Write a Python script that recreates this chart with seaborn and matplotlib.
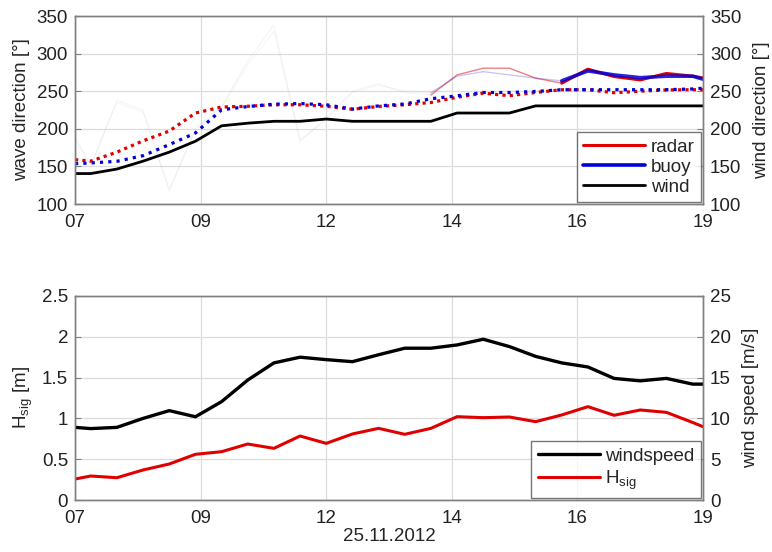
import numpy as np
import pandas as pd
import matplotlib
matplotlib.use("Agg")
import matplotlib.pyplot as plt
import seaborn as sns
from matplotlib.lines import Line2D

# ---------------- data ----------------
hours = [7.0, 7.3, 7.8, 8.3, 8.8, 9.3, 9.8, 10.3, 10.8, 11.3, 11.8, 12.3, 12.8,
         13.3, 13.8, 14.3, 14.8, 15.3, 15.8, 16.3, 16.8, 17.3, 17.8, 18.3, 18.8, 19.0]

wind_dir = [140.5, 140.5, 146.5, 157, 169, 183.5, 204, 207.5, 210, 210, 213, 210, 210,
            210, 210, 221, 221, 221, 230.5, 230.5, 230.5, 230.5, 230.5, 230.5, 230.5, 230.5]

radar_mean = [159, 157, 169, 184, 197, 221, 229, 230, 232, 232, 230, 226, 229.7,
              232, 235, 242, 247.4, 244, 248.3, 252, 252, 248, 250, 251.7, 252, 252]
buoy_mean = [153.7, 154.6, 156.8, 164.3, 179, 194.4, 225.3, 229.6, 232.8, 233.6, 232, 226.2, 230.5,
             233, 240, 243.9, 248.3, 248.3, 249.7, 252, 252, 252, 252, 252, 253, 254]

radar_peak = [190, 150, 238, 225, 117, 200, 230, 290, 338, 183, 215, 250, 260,
              248, 245, 271.7, 280.6, 280.6, 267.4, 260.7, 279.3, 269.5, 265, 273.6, 270, 267.6]
buoy_peak = [185, 152, 235, 222, 120, 198, 228, 285, 330, 185, 212, 248, 258,
             250, 248, 270, 276, 271.7, 267.4, 263.8, 277, 271.7, 268, 270, 270, 266]

windspeed = [8.9, 8.75, 8.9, 10.0, 10.95, 10.2, 12.05, 14.7, 16.8, 17.5, 17.2, 16.95, 17.8,
             18.6, 18.6, 19.0, 19.7, 18.8, 17.6, 16.8, 16.3, 14.9, 14.6, 14.9, 14.2, 14.2]
hsig = [0.257, 0.294, 0.273, 0.368, 0.441, 0.56, 0.592, 0.686, 0.633, 0.784, 0.694, 0.809, 0.878,
        0.805, 0.878, 1.021, 1.009, 1.017, 0.96, 1.042, 1.144, 1.038, 1.103, 1.074, 0.95, 0.898]

xtick_labels = ["07", "09", "12", "14", "16", "19"]
dir_ticks = [100, 150, 200, 250, 300, 350]
hs_ticks = [0, 0.5, 1, 1.5, 2, 2.5]
ws_ticks = [0, 5, 10, 15, 20, 25]
date_label = "25.11.2012"

df = pd.DataFrame(dict(t=hours, wind_dir=wind_dir, radar_mean=radar_mean, buoy_mean=buoy_mean,
                       radar_peak=radar_peak, buoy_peak=buoy_peak, windspeed=windspeed, hsig=hsig))

# ---------------- style ----------------
sns.set_style("white")
plt.rcParams['font.family'] = ['Liberation Sans', 'DejaVu Sans']
plt.rcParams['font.size'] = 13.5
plt.rcParams['mathtext.fontset'] = 'custom'
plt.rcParams['mathtext.rm'] = 'Liberation Sans'
plt.rcParams['mathtext.it'] = 'Liberation Sans'

RED = '#e00000'
BLUE = '#0000d8'
BLK = '#000000'
GRID = '#dcdcdc'
FRAME = '#808080'
FS = 13.5

fig = plt.figure(figsize=(7.72, 5.52), dpi=100)
ax1 = fig.add_axes([0.0972, 0.6304, 0.8135, 0.3406])
ax3 = fig.add_axes([0.0972, 0.0942, 0.8135, 0.3696])
ax2 = ax1.twinx()
ax4 = ax3.twinx()

xt = np.linspace(7, 19, 6)

def style(ax):
    for s in ax.spines.values():
        s.set_color(FRAME)
        s.set_linewidth(1.0)
    ax.tick_params(direction='in', length=4, color=FRAME, labelsize=FS, colors='#222222')
    ax.tick_params(axis='y', pad=5)
    ax.tick_params(axis='x', pad=7)
    ax.set_xlim(7, 19)

# ---- top panel ----
early = df[df.t <= 13.8]
mid = df[(df.t >= 13.8) & (df.t <= 16.3)]
late = df[df.t >= 16.3]

sns.lineplot(data=early, x='t', y='radar_peak', ax=ax1, color='#aaaaaa', lw=0.8, alpha=0.12)
sns.lineplot(data=early, x='t', y='buoy_peak', ax=ax1, color='#aaaaaa', lw=0.8, alpha=0.1)
sns.lineplot(data=mid, x='t', y='radar_peak', ax=ax1, color=RED, lw=1.0, alpha=0.5)
sns.lineplot(data=mid, x='t', y='buoy_peak', ax=ax1, color=BLUE, lw=1.0, alpha=0.22)
sns.lineplot(data=late, x='t', y='radar_peak', ax=ax1, color=RED, lw=2.2)
sns.lineplot(data=late, x='t', y='buoy_peak', ax=ax1, color=BLUE, lw=2.6, alpha=0.85)
sns.lineplot(data=df, x='t', y='radar_mean', ax=ax1, color=RED, lw=2.3, linestyle=(0, (1, 1.3)))
sns.lineplot(data=df, x='t', y='buoy_mean', ax=ax1, color=BLUE, lw=2.3, linestyle=(0, (1, 1.6)))
sns.lineplot(data=df, x='t', y='wind_dir', ax=ax1, color=BLK, lw=2.0)

ax1.set_ylim(100, 350)
ax2.set_ylim(100, 350)
ax1.set_yticks(dir_ticks)
ax2.set_yticks(dir_ticks)
ax1.set_xticks(xt)
ax1.set_xticklabels(xtick_labels)
ax1.grid(True, color=GRID, lw=0.9)
ax1.set_xlabel('')
ax1.set_ylabel('wave direction [°]', fontsize=FS, labelpad=5)
ax2.set_ylabel('wind direction [°]', fontsize=FS, labelpad=8)
style(ax1); style(ax2)

handles_top = [Line2D([], [], color=RED, lw=2.2), Line2D([], [], color=BLUE, lw=2.6),
               Line2D([], [], color=BLK, lw=2.0)]
leg1 = ax2.legend(handles_top, ['radar', 'buoy', 'wind'], loc='lower right', fontsize=FS,
                  frameon=True, fancybox=False, borderaxespad=0.1, handlelength=3.3,
                  handletextpad=0.3, borderpad=0.35, labelspacing=0.15)
leg1.get_frame().set_edgecolor('#555555')
leg1.get_frame().set_linewidth(1.0)

# ---- bottom panel ----
sns.lineplot(data=df, x='t', y='hsig', ax=ax3, color=RED, lw=2.2)
sns.lineplot(data=df, x='t', y='windspeed', ax=ax4, color=BLK, lw=2.4)
ax3.set_ylim(0, 2.5)
ax4.set_ylim(0, 25)
ax3.set_yticks(hs_ticks)
ax3.set_yticklabels(['0', '0.5', '1', '1.5', '2', '2.5'])
ax4.set_yticks(ws_ticks)
ax3.set_xticks(xt)
ax3.set_xticklabels(xtick_labels)
ax3.grid(True, color=GRID, lw=0.9)
ax3.set_xlabel(date_label, fontsize=FS, labelpad=1)
ax3.set_ylabel('H$_{sig}$ [m]', fontsize=FS, labelpad=5)
ax4.set_ylabel('wind speed [m/s]', fontsize=FS, labelpad=8)
style(ax3); style(ax4)

handles_bot = [Line2D([], [], color=BLK, lw=2.4), Line2D([], [], color=RED, lw=2.2)]
leg2 = ax4.legend(handles_bot, ['windspeed', 'H$_{sig}$'], loc='lower right', fontsize=FS,
                  frameon=True, fancybox=False, borderaxespad=0.1, handlelength=3.3,
                  handletextpad=0.3, borderpad=0.35, labelspacing=0.2)
leg2.get_frame().set_edgecolor('#555555')
leg2.get_frame().set_linewidth(1.0)

fig.savefig('out.png', dpi=100)
